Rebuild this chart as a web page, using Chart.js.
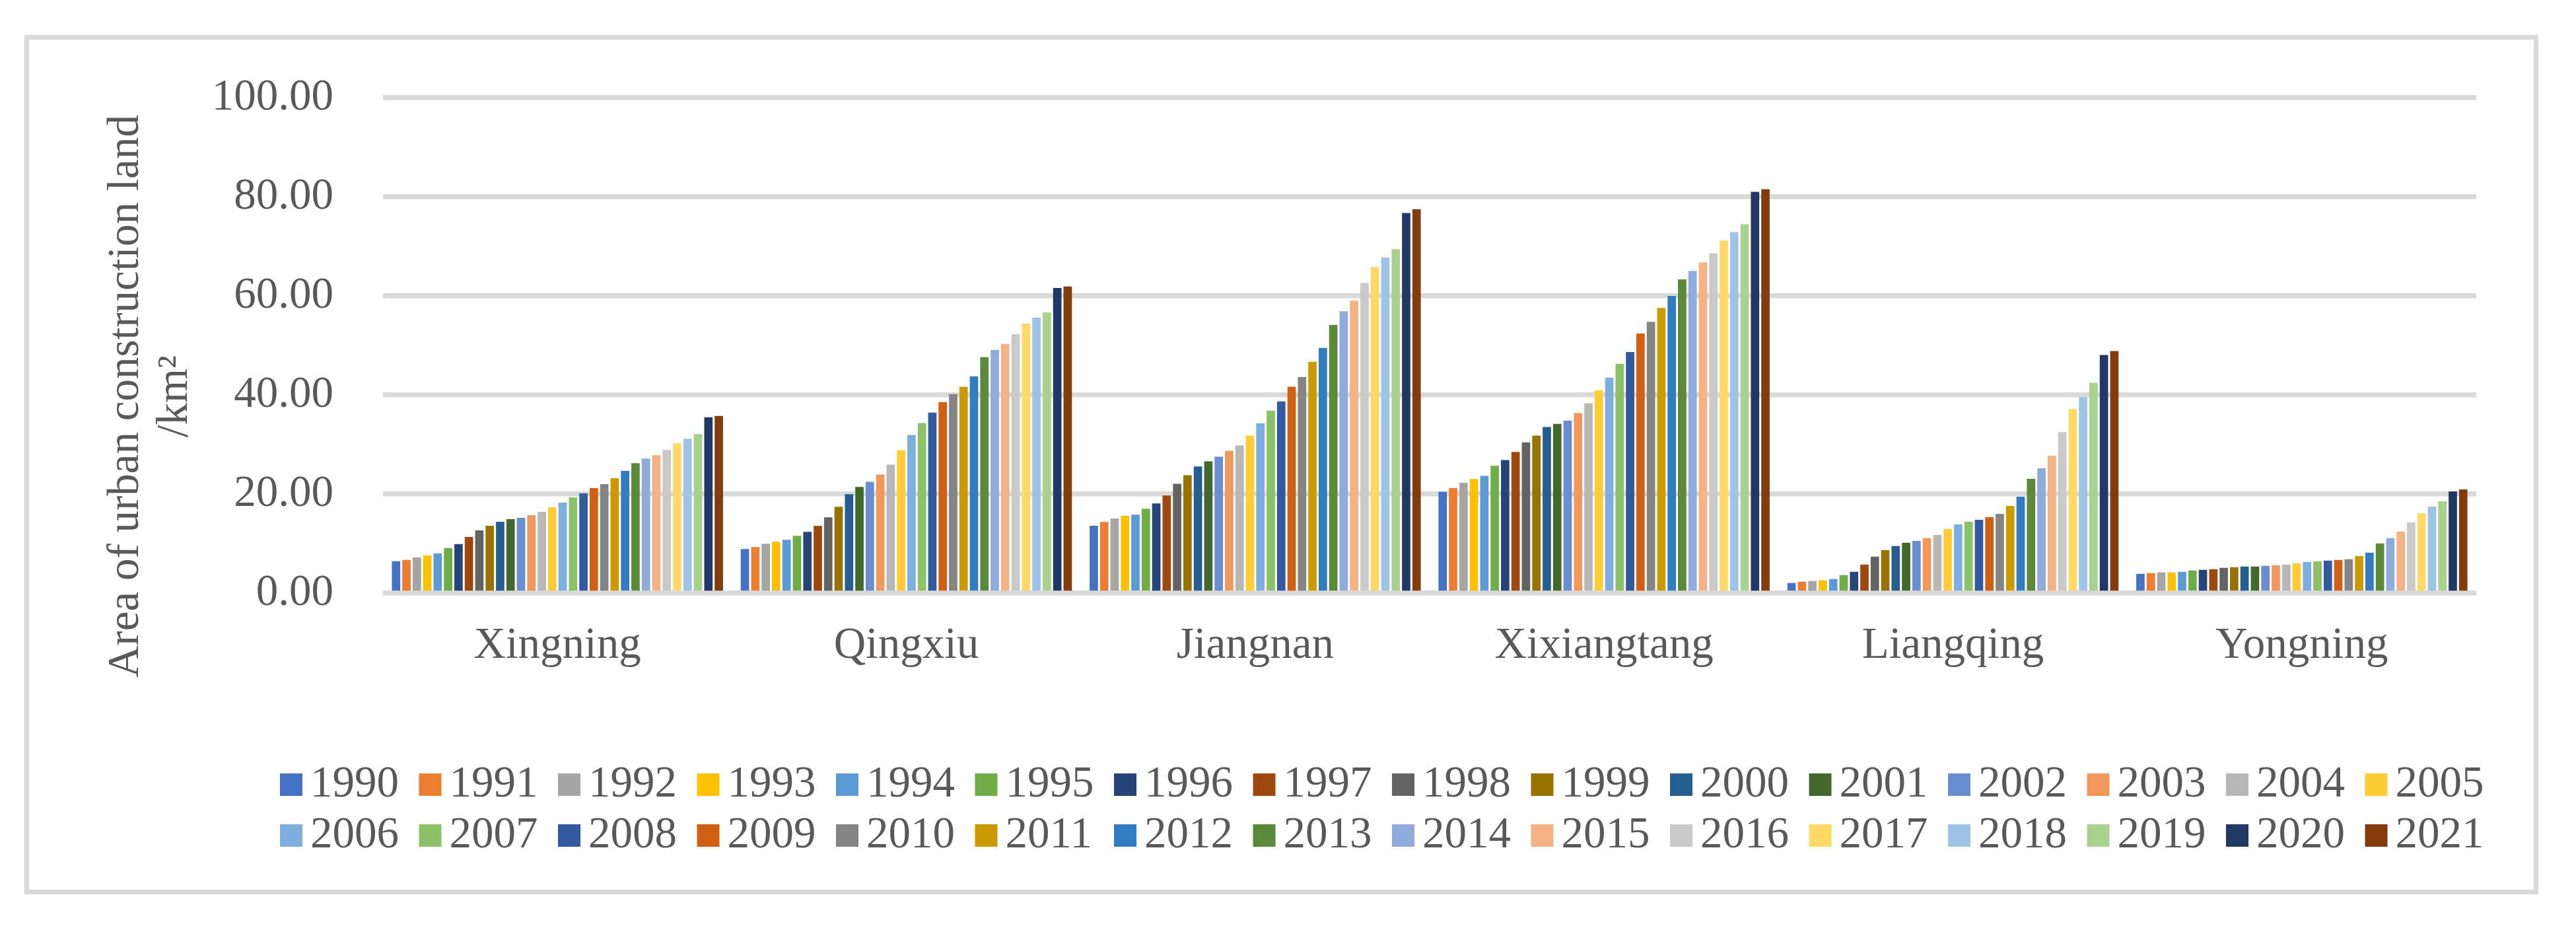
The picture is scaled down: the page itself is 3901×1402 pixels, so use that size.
<!DOCTYPE html>
<html>
<head>
<meta charset="utf-8">
<script src="https://cdn.jsdelivr.net/npm/chart.js@4.4.1/dist/chart.umd.min.js"></script>
<style>
  html, body { margin: 0; padding: 0; background: #ffffff; }
  body { width: 3901px; height: 1402px; position: relative; overflow: hidden; }
  #frame { position: absolute; left: 37px; top: 53px; width: 3807px; height: 1301px;
           border: 7px solid #d9d9d9; box-sizing: border-box; }
  #wrap { position: absolute; left: 0; top: 0; width: 3901px; height: 1402px; }
</style>
</head>
<body>
<div id="frame"></div>
<div id="wrap"><canvas id="c" width="3901" height="1402"></canvas></div>
<script>
const categories = ["Xingning", "Qingxiu", "Jiangnan", "Xixiangtang", "Liangqing", "Yongning"];
const years = ["1990","1991","1992","1993","1994","1995","1996","1997","1998","1999","2000","2001","2002","2003","2004","2005","2006","2007","2008","2009","2010","2011","2012","2013","2014","2015","2016","2017","2018","2019","2020","2021"];
const yTicks = [0, 20, 40, 60, 80, 100];

// values per district, one per year 1990..2021 (km²)
const xingning    = [6.43, 6.70, 7.23, 7.63, 8.03, 9.09, 9.89, 11.35, 12.68, 13.61, 14.41, 14.94, 15.21, 15.74, 16.41, 17.34, 18.27, 19.33, 20.13, 21.20, 22.00, 23.19, 24.66, 26.25, 27.18, 27.85, 28.91, 30.24, 31.18, 32.10, 35.50, 35.76];
const qingxiu     = [8.91, 9.31, 9.98, 10.38, 10.78, 11.57, 12.37, 13.57, 15.30, 17.43, 19.96, 21.42, 22.48, 23.95, 25.94, 28.87, 31.93, 34.32, 36.45, 38.58, 40.18, 41.64, 43.77, 47.63, 49.09, 50.29, 52.28, 54.41, 55.61, 56.67, 61.60, 61.90];
const jiangnan    = [13.59, 14.36, 15.07, 15.61, 15.85, 17.03, 18.10, 19.70, 22.08, 23.80, 25.58, 26.59, 27.54, 28.72, 29.79, 31.81, 34.30, 36.85, 38.69, 41.66, 43.62, 46.71, 49.50, 54.12, 56.91, 59.05, 62.61, 65.82, 67.72, 69.44, 76.74, 77.51];
const xixiangtang = [20.47, 21.19, 22.26, 23.03, 23.68, 25.70, 26.88, 28.49, 30.45, 31.81, 33.53, 34.18, 34.84, 36.32, 38.34, 40.95, 43.50, 46.29, 48.66, 52.40, 54.78, 57.57, 60.00, 63.32, 65.04, 66.77, 68.61, 71.16, 72.88, 74.48, 81.01, 81.54];
const liangqing   = [2.04, 2.31, 2.44, 2.57, 2.84, 3.64, 4.30, 5.76, 7.36, 8.69, 9.49, 10.16, 10.55, 11.09, 11.75, 12.95, 13.88, 14.41, 14.81, 15.34, 16.01, 17.61, 19.47, 23.06, 25.19, 27.72, 32.51, 37.16, 39.56, 42.48, 48.07, 48.87];
const yongning    = [3.90, 4.04, 4.17, 4.17, 4.30, 4.57, 4.70, 4.83, 5.10, 5.23, 5.37, 5.37, 5.50, 5.63, 5.76, 6.03, 6.30, 6.43, 6.56, 6.70, 6.83, 7.49, 8.16, 10.02, 11.09, 12.42, 14.28, 16.14, 17.47, 18.54, 20.53, 20.93];

const colors = ["#4472C4","#ED7D31","#A5A5A5","#FFC000","#5B9BD5","#70AD47","#264478","#9E480E","#636363","#997300","#255E91","#43682B","#698ED0","#F1975A","#B7B7B7","#FFCD33","#7CAFDD","#8CC168","#335AA1","#D26012","#848484","#CC9A00","#327DC2","#5A8A39","#8FAADC","#F4B183","#C9C9C9","#FFD966","#9DC3E6","#A9D18E","#203864","#843C0C"];

const yTitleLines = ["Area of urban construction land", "/km\u00B2"];

const districtValues = [xingning, qingxiu, jiangnan, xixiangtang, liangqing, yongning];
const datasets = years.map((y, i) => ({
  label: y,
  data: districtValues.map(d => d[i]),
  backgroundColor: colors[i],
  borderWidth: 0,
  categoryPercentage: 0.955,
  barPercentage: 0.805
}));

const FONT = "'Liberation Serif', 'Times New Roman', serif";
const TXT = "#595959";
const FS = 67;

const yTitlePlugin = {
  id: 'yTitle',
  afterDraw(chart) {
    const ctx = chart.ctx;
    ctx.save();
    ctx.fillStyle = TXT;
    ctx.font = FS + "px " + FONT;
    ctx.textAlign = 'center';
    ctx.textBaseline = 'alphabetic';
    const baseX = [209, 283];
    yTitleLines.forEach((t, i) => {
      ctx.save();
      ctx.translate(baseX[i], 600);
      ctx.rotate(-Math.PI / 2);
      ctx.fillText(t, 0, 0);
      ctx.restore();
    });
    ctx.restore();
  }
};

// legend laid out as in the reference: 16 equal-width entries per row, two rows
const legendPlugin = {
  id: 'gridLegend',
  afterDraw(chart) {
    const ctx = chart.ctx;
    const perRow = 16, x0 = 424, pitch = 210.5, rowY = [1188, 1265], box = 34, gap = 12;
    ctx.save();
    ctx.font = FS + "px " + FONT;
    ctx.textAlign = 'left';
    ctx.textBaseline = 'middle';
    chart.data.datasets.forEach((ds, i) => {
      const col = i % perRow, row = Math.floor(i / perRow);
      const x = x0 + col * pitch, y = rowY[row];
      ctx.fillStyle = ds.backgroundColor;
      ctx.fillRect(x, y - box / 2, box, box);
      ctx.fillStyle = TXT;
      ctx.fillText(ds.label, x + box + gap, y);
    });
    ctx.restore();
  }
};

const chart = new Chart(document.getElementById('c'), {
  type: 'bar',
  data: { labels: categories, datasets },
  options: {
    responsive: false,
    animation: false,
    devicePixelRatio: 1,
    layout: { padding: { left: 0, right: 151, top: 148, bottom: 354 } },
    plugins: { legend: { display: false }, tooltip: { enabled: false } },
    scales: {
      x: {
        grid: { display: false, drawTicks: false },
        border: { display: false },
        ticks: { color: TXT, font: { family: FONT, size: FS }, padding: 40 },
        afterFit(s) { s.height = 150; }
      },
      y: {
        min: 0, max: 100,
        afterBuildTicks(s) { s.ticks = yTicks.map(v => ({ value: v })); },
        grid: { color: '#d9d9d9', lineWidth: 7.5, drawTicks: false },
        border: { display: false },
        ticks: { color: TXT, font: { family: FONT, size: FS }, padding: 75,
                 callback: v => Number(v).toFixed(2) },
        afterFit(s) { s.width = 580; }
      }
    }
  },
  plugins: [yTitlePlugin, legendPlugin]
});
</script>
</body>
</html>
